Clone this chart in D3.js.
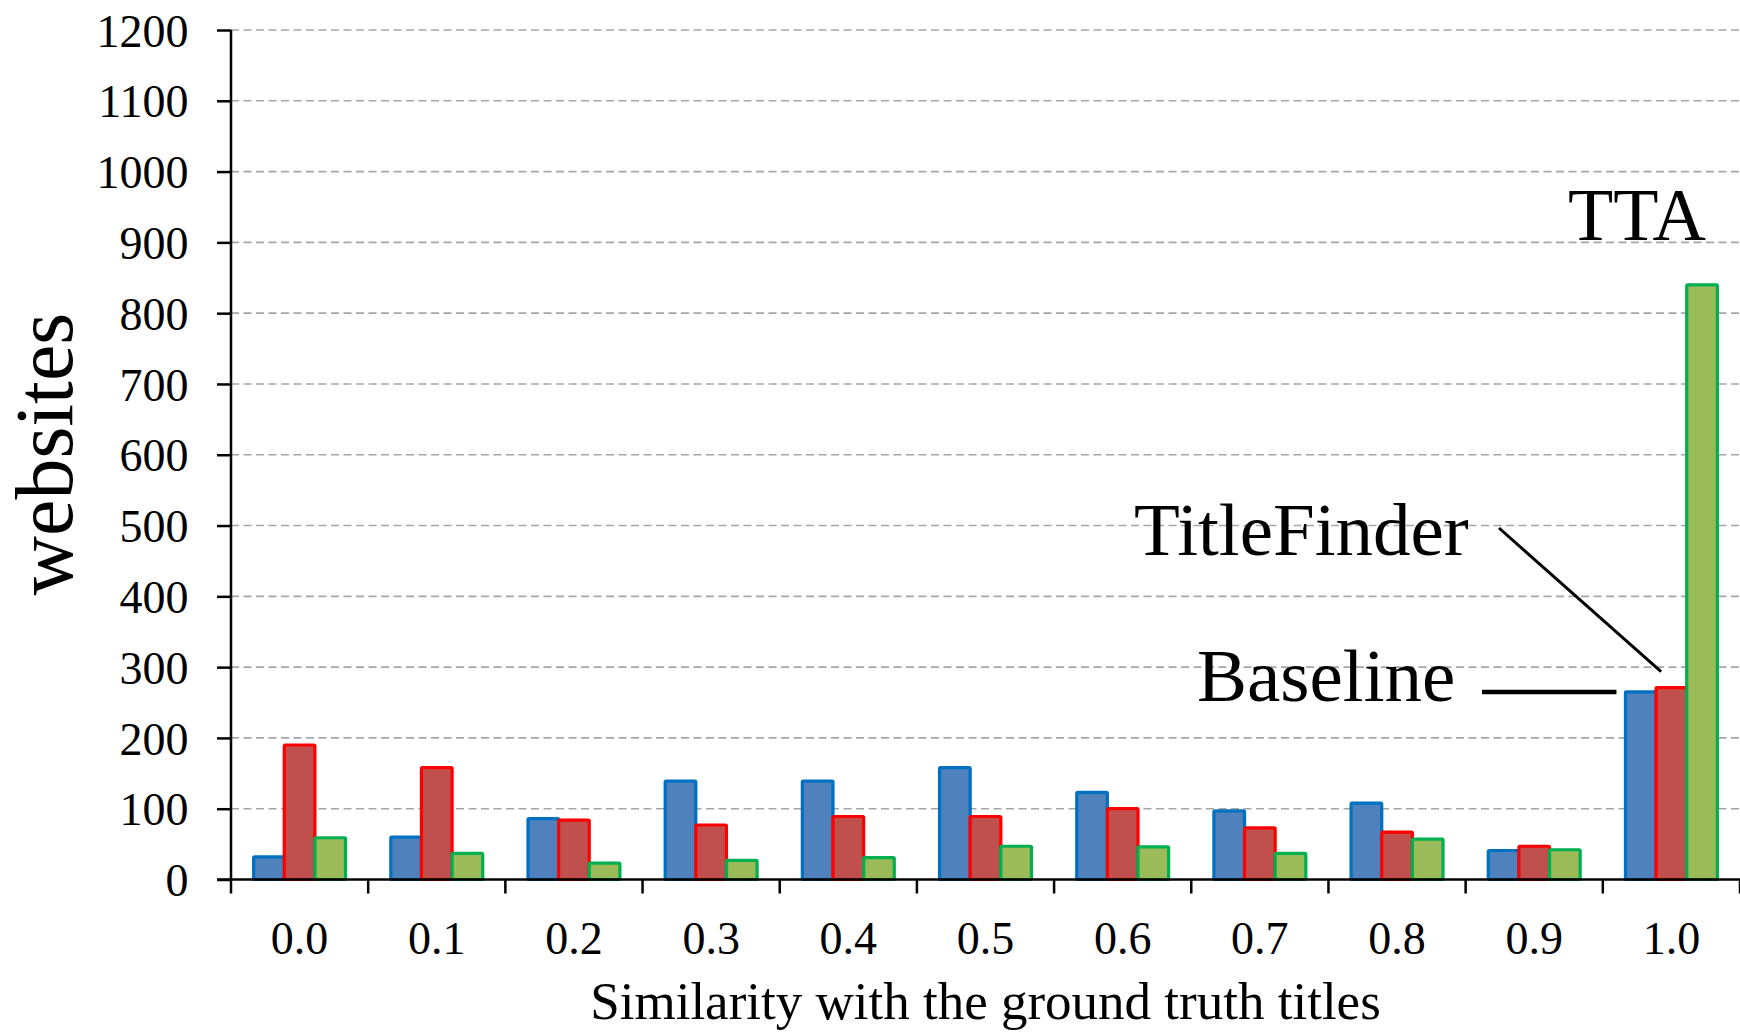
<!DOCTYPE html>
<html>
<head>
<meta charset="utf-8">
<script src="https://cdn.jsdelivr.net/npm/d3@7"></script>
<style>
  html, body { margin: 0; padding: 0; background: #fff; }
  svg { display: block; }
  text { font-family: "Liberation Serif", "Times New Roman", serif; fill: #000; }
</style>
</head>
<body>
<svg id="chart" width="1740" height="1034"></svg>
<script>
const categories = ["0.0", "0.1", "0.2", "0.3", "0.4", "0.5", "0.6", "0.7", "0.8", "0.9", "1.0"];
const seriesNames = ["Baseline", "TitleFinder", "TTA"];
const baseline    = [32, 60, 86, 139, 139, 158, 123, 97, 108, 41, 265];
const titleFinder = [190, 158, 84, 77, 89, 89, 100, 73, 67, 47, 271];
const tta         = [59, 37, 23, 27, 31, 47, 46, 37, 57, 42, 840];
const yTicks = [0, 100, 200, 300, 400, 500, 600, 700, 800, 900, 1000, 1100, 1200];
const xTitle = "Similarity with the ground truth titles";
const yTitle = "websites";

(function () {
const fills   = ["#4F81BD", "#C0504D", "#9BBB59"];
const strokes = ["#0070C0", "#FF0000", "#00B050"];
const values = [baseline, titleFinder, tta];

const svg = d3.select("#chart");
const mLeft = 231, mRight = 1740, mTop = 30, mBottom = 879.5;

const x = d3.scaleBand().domain(categories).range([mLeft, mRight]).padding(0);
const bw = x.bandwidth();
const x1 = d3.scaleBand().domain(seriesNames).range([bw * 0.165, bw * 0.835]).padding(0);
const y = d3.scaleLinear().domain([0, 1200]).range([mBottom, mTop]);

// gridlines
svg.append("g").selectAll("line")
  .data(yTicks.filter(v => v > 0))
  .join("line")
  .attr("x1", mLeft).attr("x2", mRight)
  .attr("y1", d => y(d)).attr("y2", d => y(d))
  .attr("stroke", "#A6A6A6").attr("stroke-width", 1.6)
  .attr("stroke-dasharray", "8,4.5");

// bars
const groups = svg.append("g").selectAll("g")
  .data(categories)
  .join("g")
  .attr("transform", d => `translate(${x(d)},0)`);

groups.selectAll("rect")
  .data((c, i) => seriesNames.map((s, k) => ({ s, k, v: values[k][i] })))
  .join("rect")
  .attr("x", d => x1(d.s))
  .attr("width", x1.bandwidth())
  .attr("y", d => y(d.v))
  .attr("height", d => y(0) - y(d.v))
  .attr("rx", 1)
  .attr("fill", d => fills[d.k])
  .attr("stroke", d => strokes[d.k])
  .attr("stroke-width", 3.2);

// y axis
const yAxis = svg.append("g")
  .attr("transform", `translate(${mLeft},0)`)
  .call(d3.axisLeft(y).tickValues(yTicks).tickSize(14).tickPadding(28.5).tickFormat(d3.format("d")));
yAxis.select(".domain").attr("stroke", "#000").attr("stroke-width", 2.5).attr("d", `M0,${mTop}V${mBottom}`);
yAxis.selectAll(".tick line").attr("stroke", "#000").attr("stroke-width", 2.5);
yAxis.selectAll(".tick text").attr("font-size", 46).attr("dy", "0.35em")
  .style("font-family", '"Liberation Serif", "Times New Roman", serif');

// x axis
const xAxis = svg.append("g")
  .attr("transform", `translate(0,${mBottom})`)
  .call(d3.axisBottom(x).tickSize(0).tickPadding(0));
xAxis.select(".domain").attr("stroke", "#000").attr("stroke-width", 2.5).attr("d", `M${mLeft - 14},0H${mRight}`);
xAxis.selectAll(".tick text").attr("font-size", 46).attr("y", 74).attr("dy", "0")
  .style("font-family", '"Liberation Serif", "Times New Roman", serif');
const boundaries = categories.map(c => x(c)).concat([x.range()[1]]);
xAxis.append("g").selectAll("line")
  .data(boundaries)
  .join("line")
  .attr("x1", d => d).attr("x2", d => d)
  .attr("y1", 0).attr("y2", 14)
  .attr("stroke", "#000").attr("stroke-width", 2.5);

// axis titles
svg.append("text")
  .attr("x", (mLeft + mRight) / 2).attr("y", 1019)
  .attr("text-anchor", "middle").attr("font-size", 53)
  .text(xTitle);

svg.append("text")
  .attr("transform", "translate(72,454) rotate(-90)")
  .attr("text-anchor", "middle").attr("font-size", 82)
  .text(yTitle);

// annotations
const lastCat = categories[categories.length - 1];
const last = categories.length - 1;
svg.append("text").attr("x", 1568).attr("y", 240).attr("font-size", 74).text("TTA");
svg.append("text").attr("x", 1134).attr("y", 555).attr("font-size", 75).text("TitleFinder");
svg.append("text").attr("x", 1197).attr("y", 701).attr("font-size", 75).text("Baseline");

svg.append("line")
  .attr("x1", 1499).attr("y1", 528)
  .attr("x2", x(lastCat) + x1("TitleFinder") + 5).attr("y2", y(titleFinder[last]) - 16)
  .attr("stroke", "#000").attr("stroke-width", 3);
svg.append("line")
  .attr("x1", 1482).attr("y1", y(baseline[last]))
  .attr("x2", x(lastCat) + x1("Baseline") - 9).attr("y2", y(baseline[last]))
  .attr("stroke", "#000").attr("stroke-width", 4.5);
})();
</script>
</body>
</html>
